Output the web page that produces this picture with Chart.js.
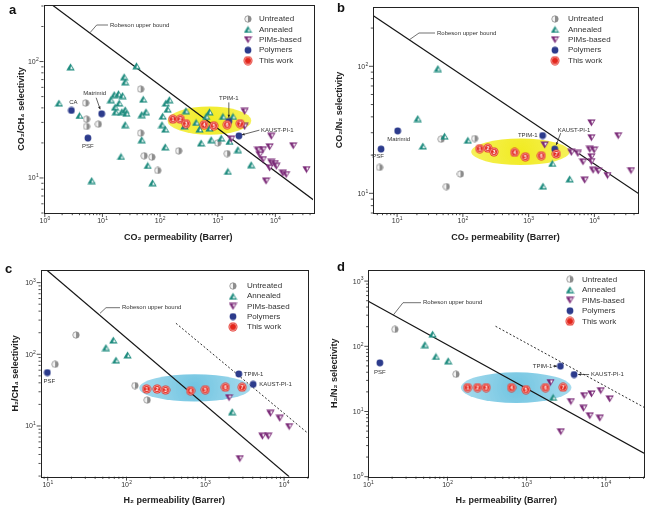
<!DOCTYPE html>
<html>
<head>
<meta charset="utf-8">
<title>Permeability / selectivity upper bound plots</title>
<script src="https://cdn.jsdelivr.net/npm/chart.js@4.4.1/dist/chart.umd.min.js"></script>
<style>
  html, body { margin: 0; padding: 0; background: #fff; }
  #fig { position: relative; width: 650px; height: 511px; overflow: hidden; }
  .panel { position: absolute; }
</style>
</head>
<body>
<div id="fig">
  <div class="panel" style="left:0;top:0;width:325px;height:255px"><canvas id="chartA"></canvas></div>
  <div class="panel" style="left:325px;top:0;width:325px;height:255px"><canvas id="chartB"></canvas></div>
  <div class="panel" style="left:0;top:255px;width:325px;height:256px"><canvas id="chartC"></canvas></div>
  <div class="panel" style="left:325px;top:255px;width:325px;height:256px"><canvas id="chartD"></canvas></div>
</div>
<script>
// values, [permeability (Barrer), selectivity]
const LEGEND_LABELS = ['Untreated', 'Annealed', 'PIMs-based', 'Polymers', 'This work'];
const WORK_LABELS = ['1', '2', '3', '4', '5', '6', '7'];

// a - CO2/CH4
const A_UNTREATED = [[5.1,44],[5.3,32],[5.3,27.7],[8.5,29],[46,58],[46,24.3],[53,15.5],[72,15.1],[91,11.6],[210,17.1],[1000,20],[1460,16.2]];
const A_ANNEALED = [[2.8,90],[39,92],[1.76,44],[4.0,34.4],[23.8,74],[24.8,67],[14,47],[16,52],[19,53],[22.3,51],[19.5,44],[16.6,40.6],[17,37],[21.7,37],[24.8,38.5],[26,36],[24.8,28.7],[51,47.5],[48,35],[57,37],[48,21.3],[21,15.3],[61,12.8],[6.5,9.5],[74,9.1],[123,18.5],[126,44],[145,47],[135,39],[111,34],[108,28.7],[123,26.3],[281,37.8],[265,28],[422,30],[482,26.3],[720,37],[630,33.8],[720,26.8],[1230,33.8],[1840,33.8],[515,20],[770,21.3],[1150,22],[1600,20.6],[2240,17.5],[3800,13],[1500,11.4]];
const A_PIMS = [[2930,37.3],[2930,27.7],[1710,21.6],[8500,22.8],[20400,18.9],[5000,17.3],[6100,17.5],[7950,18.5],[5350,15.8],[6100,14.4],[8500,13.6],[9800,13.3],[7950,12.2],[10400,12.6],[13500,11],[15400,10.7],[34700,11.8],[6900,9.4]];
const A_POLYMERS = [[2.9,38],[9.7,35.6],[5.6,22],[1560,30.6],[2330,23]];
const A_POLYMER_NAMES = ['CA', 'Matrimid', 'PSF', 'TPIM-1', 'KAUST-PI-1'];
const A_WORK = [[166,32],[225,32],[282,29.3],[581,28.7],[857,28.1],[1460,28.7],[2450,29.3]];
const A_ROBESON = [[1.35,306],[45400,6.5]];
const A_HIGHLIGHT = [[135,3830],[23.5,41.1]];
const A_X_RANGE = [0.95, 45000];
const A_Y_RANGE = [5, 306];

// b - CO2/N2
const B_UNTREATED = [[5.4,16],[46.7,26.7],[151,27],[92,14.2],[56,11.3]];
const B_ANNEALED = [[41.6,96],[20.6,38.8],[24.6,23.6],[52.6,28.2],[119,26.2],[2290,17.2],[1650,11.4],[4200,13]];
const B_PIMS = [[1750,24],[9000,35.9],[9000,27.4],[23000,28.4],[4460,21],[5600,20.6],[6700,17.7],[8500,22.2],[9900,21.9],[9000,19.4],[9000,17.8],[9550,15.2],[11400,15],[7100,12.7],[15800,13.8],[36000,15.1]];
const B_POLYMERS = [[10.2,31],[5.7,22.3],[1630,28.5],[2490,22.3]];
const B_POLYMER_NAMES = ['Matrimid', 'PSF', 'TPIM-1', 'KAUST-PI-1'];
const B_WORK = [[180,22.5],[240,22.7],[297,21.2],[612,21],[890,19.4],[1560,19.8],[2640,20.4]];
const B_ROBESON = [[4.3,251],[46200,10]];
const B_HIGHLIGHT = [[134,4200],[16.7,27]];
const B_X_RANGE = [4.3, 46000];
const B_Y_RANGE = [7, 293];

// c - H2/CH4
const C_UNTREATED = [[22.9,186],[12.4,72.5],[128,36.6],[183,23]];
const C_ANNEALED = [[54.8,124],[68,158],[73.5,83],[103,98],[2190,15.8]];
const C_PIMS = [[2000,24.8],[6700,15],[8800,12.8],[11600,9.8],[5300,7.2],[6300,7.2],[2740,3.5]];
const C_POLYMERS = [[9.9,55.5],[2660,53.2],[4050,38.1]];
const C_POLYMER_NAMES = ['PSF', 'TPIM-1', 'KAUST-PI-1'];
const C_WORK = [[180,32.8],[245,32.8],[313,31.8],[649,31.1],[1000,32.1],[1800,34.7],[2930,34.7]];
const C_ROBESON = [[9.7,1500],[11600,1.96]];
const C_DOTTED = [[424,271],[20100,7.9]];
const C_HIGHLIGHT = [[145,3740],[21.9,52.6]];
const C_X_RANGE = [8.15, 20100];
const C_Y_RANGE = [1.96, 1500];

// d - H2/N2
const D_UNTREATED = [[21.7,182],[128,37.3]];
const D_ANNEALED = [[51.9,106],[64.9,154],[71.4,69.8],[102,60],[2160,16.5]];
const D_PIMS = [[2000,27.8],[3620,14.2],[5320,17.5],[6600,18.6],[8630,20.9],[11200,15.6],[5220,11.2],[6280,8.6],[8400,7.9],[2700,4.9]];
const D_POLYMERS = [[14,55.8],[2670,49.6],[3980,36.9]];
const D_POLYMER_NAMES = ['PSF', 'TPIM-1', 'KAUST-PI-1'];
const D_WORK = [[180,23.3],[240,23.3],[309,23.3],[645,23.3],[980,21.7],[1730,23.3],[2890,23.5]];
const D_ROBESON = [[10,492],[30400,2.29]];
const D_DOTTED = [[405,203],[30400,11.6]];
const D_HIGHLIGHT = [[148,3680],[13.5,40]];
const D_X_RANGE = [10, 30400];
const D_Y_RANGE = [1, 1480];

const FONT = '"Liberation Sans", Arial, Helvetica, sans-serif';

// ---- marker images ----
function makeIcon(w, h, draw) {
  const c = document.createElement('canvas');
  c.width = w; c.height = h;
  draw(c.getContext('2d'));
  return c;
}

const ICON_UNTREATED = makeIcon(8, 8, g => {
  g.beginPath(); g.arc(4, 4, 3.2, 0, Math.PI * 2); g.fillStyle = '#8e8e8e'; g.fill();
  g.beginPath(); g.arc(4, 4, 3.2, Math.PI / 2, Math.PI * 1.5); g.closePath(); g.fillStyle = '#f3f3f3'; g.fill();
  g.beginPath(); g.arc(4, 4, 3.2, 0, Math.PI * 2); g.strokeStyle = '#888'; g.lineWidth = 0.7; g.stroke();
});
const ICON_ANNEALED = makeIcon(9, 8, g => {
  g.beginPath(); g.moveTo(4.5, 0.4); g.lineTo(8.7, 7.6); g.lineTo(0.3, 7.6); g.closePath();
  g.fillStyle = '#1d8b7e'; g.fill();
  g.beginPath(); g.moveTo(5.0, 3.0); g.lineTo(6.9, 6.3); g.lineTo(4.3, 6.3); g.closePath();
  g.fillStyle = '#ffffff'; g.fill();
});
const ICON_PIMS = makeIcon(9, 8, g => {
  g.beginPath(); g.moveTo(0.3, 0.4); g.lineTo(8.7, 0.4); g.lineTo(4.5, 7.6); g.closePath();
  g.fillStyle = '#7b2a78'; g.fill();
  g.beginPath(); g.moveTo(4.3, 1.7); g.lineTo(6.9, 1.7); g.lineTo(5.0, 5.0); g.closePath();
  g.fillStyle = '#ffffff'; g.fill();
});
const ICON_POLYMER = makeIcon(8, 8, g => {
  g.beginPath(); g.arc(4, 4, 3.4, 0, Math.PI * 2); g.fillStyle = '#2c3b8c'; g.fill();
});
function redIcon(label) {
  return makeIcon(10, 10, g => {
    g.beginPath(); g.arc(5, 5, 4.5, 0, Math.PI * 2); g.fillStyle = '#e3261c'; g.fill();
    g.beginPath(); g.arc(5, 5, 3.5, 0, Math.PI * 2); g.strokeStyle = 'rgba(255,255,255,0.85)'; g.lineWidth = 0.6; g.stroke();
    if (label) {
      g.fillStyle = '#fff'; g.font = 'bold 5.5px ' + FONT;
      g.textAlign = 'center'; g.textBaseline = 'middle';
      g.fillText(label, 5, 5.3);
    }
  });
}
const ICON_WORK = WORK_LABELS.map(redIcon);
const ICON_WORK_PLAIN = redIcon('');
const LEGEND_ICONS = [ICON_UNTREATED, ICON_ANNEALED, ICON_PIMS, ICON_POLYMER, ICON_WORK_PLAIN];

// ---- helpers ----
function toXY(pairs) {
  return pairs.map(p => ({x: p[0], y: p[1]}));
}

function logAxis(horizontal, range, title, titlePad, size) {
  return {
    type: 'logarithmic',
    position: horizontal ? 'bottom' : 'left',
    min: range[0],
    max: range[1],
    grid: {display: false, drawTicks: false},
    border: {display: false},
    ticks: {display: false},
    title: {
      display: true, text: title, color: '#222',
      font: {family: FONT, size: 9, weight: 'bold'},
      padding: horizontal ? {top: 0, bottom: titlePad} : {top: titlePad, bottom: 0}
    },
    afterFit: s => {
      if (horizontal) s.height = size; else s.width = size;
    }
  };
}

function pointSet(pairs, icon, order) {
  return {data: toXY(pairs), pointStyle: icon, pointRadius: 3, order: order};
}

function lineSet(pairs, dash, width, order) {
  return {
    data: toXY(pairs), showLine: true, pointRadius: 0, fill: false,
    borderColor: '#151515', borderWidth: width, borderDash: dash, order: order
  };
}

// minor/major tick marks and 10^n labels of a log axis
function logTicks(ctx, scale, horizontal, a) {
  const lo = Math.floor(Math.log10(scale.min)), hi = Math.ceil(Math.log10(scale.max));
  ctx.beginPath();
  for (let e = lo; e <= hi; e++) {
    for (let k = 1; k < 10; k++) {
      const v = k * Math.pow(10, e);
      if (v < scale.min * 0.999 || v > scale.max * 1.001) continue;
      const p = scale.getPixelForValue(v);
      const len = k === 1 ? 4 : 2.2;
      if (horizontal) { ctx.moveTo(p, a.bottom); ctx.lineTo(p, a.bottom + len); }
      else { ctx.moveTo(a.left, p); ctx.lineTo(a.left - len, p); }
    }
  }
  ctx.stroke();

  ctx.fillStyle = '#333';
  ctx.textBaseline = 'alphabetic';
  for (let e = lo; e <= hi; e++) {
    const v = Math.pow(10, e);
    if (v < scale.min * 0.999 || v > scale.max * 1.001) continue;
    const p = scale.getPixelForValue(v);
    const exp = String(e);
    ctx.font = '7px ' + FONT;
    const wb = ctx.measureText('10').width;
    ctx.font = '5px ' + FONT;
    const we = ctx.measureText(exp).width;
    let bx, by;
    if (horizontal) { bx = p - (wb + we) / 2; by = a.bottom + 10; }
    else { bx = a.left - 5 - wb - we; by = p + 2.5; }
    ctx.textAlign = 'left';
    ctx.font = '7px ' + FONT;
    ctx.fillText('10', bx, by);
    ctx.font = '5px ' + FONT;
    ctx.fillText(exp, bx + wb + 0.2, by - 3.2);
  }
}

function arrow(ctx, x0, y0, x1, y1) {
  ctx.beginPath(); ctx.moveTo(x0, y0); ctx.lineTo(x1, y1); ctx.stroke();
  const ang = Math.atan2(y1 - y0, x1 - x0);
  ctx.beginPath();
  ctx.moveTo(x1, y1);
  ctx.lineTo(x1 - 3 * Math.cos(ang - 0.45), y1 - 3 * Math.sin(ang - 0.45));
  ctx.lineTo(x1 - 3 * Math.cos(ang + 0.45), y1 - 3 * Math.sin(ang + 0.45));
  ctx.closePath(); ctx.fill();
}

// decorations: highlight ellipse, frame, ticks, legend, notes, panel letter
function makeDeco(cfg) {
  return {
    id: 'deco' + cfg.letter,
    beforeDatasetsDraw(chart) {
      const {ctx, chartArea: a, scales: {x, y}} = chart;
      const x0 = x.getPixelForValue(cfg.highlight[0][0]), x1 = x.getPixelForValue(cfg.highlight[0][1]);
      const y0 = y.getPixelForValue(cfg.highlight[1][0]), y1 = y.getPixelForValue(cfg.highlight[1][1]);
      ctx.save();
      ctx.beginPath(); ctx.rect(a.left, a.top, a.width, a.height); ctx.clip();
      const cx = (x0 + x1) / 2, cy = (y0 + y1) / 2;
      const rx = Math.abs(x1 - x0) / 2, ry = Math.abs(y1 - y0) / 2;
      const grad = ctx.createRadialGradient(cx, cy, 0, cx, cy, rx);
      grad.addColorStop(0, cfg.ellipseColors[0]);
      grad.addColorStop(1, cfg.ellipseColors[1]);
      ctx.beginPath(); ctx.ellipse(cx, cy, rx, ry, 0, 0, Math.PI * 2);
      ctx.fillStyle = grad; ctx.fill();
      ctx.restore();
    },
    afterDatasetsDraw(chart) {
      const {ctx, chartArea: a, scales} = chart;
      ctx.save();
      ctx.strokeStyle = '#222'; ctx.lineWidth = 1;
      ctx.strokeRect(Math.round(a.left) + 0.5, Math.round(a.top) + 0.5, Math.round(a.width), Math.round(a.height));
      ctx.lineWidth = 0.8;
      logTicks(ctx, scales.x, true, a);
      logTicks(ctx, scales.y, false, a);

      // legend
      const lg = cfg.legend;
      ctx.font = '8px ' + FONT; ctx.fillStyle = '#333';
      ctx.textAlign = 'left'; ctx.textBaseline = 'middle';
      LEGEND_ICONS.forEach((ic, i) => {
        const yy = lg.y + i * lg.dy;
        ctx.drawImage(ic, lg.sx - ic.width / 2, yy - ic.height / 2);
        ctx.fillText(LEGEND_LABELS[i], lg.tx, yy);
      });

      // Robeson label with leader
      const r = cfg.robesonLabel;
      ctx.strokeStyle = '#333'; ctx.lineWidth = 0.7;
      ctx.beginPath(); ctx.moveTo(r[0], r[1]); ctx.lineTo(r[2], r[3]); ctx.lineTo(r[4], r[3]); ctx.stroke();
      ctx.font = '6px ' + FONT; ctx.fillStyle = '#333';
      ctx.fillText('Robeson upper bound', r[4] + 2, r[3]);

      // polymer names
      const meta = chart.getDatasetMeta(3);
      cfg.notes.forEach(n => {
        const el = meta.data[n.i];
        if (!el) return;
        ctx.textAlign = n.align || 'center';
        ctx.fillStyle = '#333';
        ctx.fillText(cfg.names[n.i], el.x + n.dx, el.y + n.dy);
        if (n.arrow) {
          ctx.fillStyle = '#222'; ctx.strokeStyle = '#222'; ctx.lineWidth = 0.7;
          arrow(ctx, el.x + n.arrow[0], el.y + n.arrow[1], el.x + n.arrow[2], el.y + n.arrow[3]);
        }
      });

      ctx.font = 'bold 13px ' + FONT; ctx.fillStyle = '#111';
      ctx.textAlign = 'left'; ctx.textBaseline = 'alphabetic';
      ctx.fillText(cfg.letter, cfg.letterPos[0], cfg.letterPos[1]);
      ctx.restore();
    }
  };
}

function makePanel(id, cfg) {
  const ds = [
    pointSet(cfg.untreated, ICON_UNTREATED, 4),
    pointSet(cfg.annealed, ICON_ANNEALED, 3),
    pointSet(cfg.pims, ICON_PIMS, 2),
    pointSet(cfg.polymers, ICON_POLYMER, 1),
    {data: toXY(cfg.work), pointStyle: c => ICON_WORK[c.dataIndex] || ICON_WORK_PLAIN, pointRadius: 4, order: 0},
    lineSet(cfg.robeson, [], 1.2, 6)
  ];
  if (cfg.dotted) ds.push(lineSet(cfg.dotted, [2, 2], 0.9, 7));

  return new Chart(document.getElementById(id), {
    type: 'scatter',
    data: {datasets: ds},
    options: {
      responsive: true,
      maintainAspectRatio: false,
      animation: false,
      events: [],
      layout: {padding: {left: 0, top: cfg.pad[0], right: cfg.pad[1], bottom: 0}},
      plugins: {legend: {display: false}, tooltip: {enabled: false}},
      scales: {
        x: logAxis(true, cfg.xRange, cfg.xTitle, cfg.xTitlePad, cfg.xSize),
        y: logAxis(false, cfg.yRange, cfg.yTitle, cfg.yTitlePad, cfg.ySize)
      }
    },
    plugins: [makeDeco(cfg)]
  });
}

const YELLOW = ['rgba(240,234,20,0.95)', 'rgba(244,238,60,0.85)'];
const CYAN = ['rgba(96,190,222,0.9)', 'rgba(150,212,234,0.85)'];

makePanel('chartA', {
  letter: 'a', letterPos: [9, 13.5],
  untreated: A_UNTREATED, annealed: A_ANNEALED, pims: A_PIMS, polymers: A_POLYMERS, work: A_WORK,
  robeson: A_ROBESON, highlight: A_HIGHLIGHT, ellipseColors: YELLOW,
  xRange: A_X_RANGE, yRange: A_Y_RANGE,
  xTitle: 'CO₂ permeability (Barrer)', yTitle: 'CO₂/CH₄ selectivity',
  pad: [5, 12], xSize: 42, ySize: 43.5, xTitlePad: 11.6, yTitlePad: 16.3,
  legend: {sx: 248, tx: 259, y: 19, dy: 10.4},
  robesonLabel: [90, 32.7, 96.7, 25, 108],
  names: A_POLYMER_NAMES,
  notes: [
    {i: 0, dx: 2, dy: -8},
    {i: 1, dx: -7, dy: -20, arrow: [-5.5, -16, -1.5, -4.5]},
    {i: 2, dx: 0, dy: 8},
    {i: 3, dx: 0, dy: -23, arrow: [0, -19, 0, -4]},
    {i: 4, dx: 22, dy: -6, align: 'left', arrow: [20.5, -5.7, 3, -1]}
  ]
});

makePanel('chartB', {
  letter: 'b', letterPos: [12, 11.7],
  untreated: B_UNTREATED, annealed: B_ANNEALED, pims: B_PIMS, polymers: B_POLYMERS, work: B_WORK,
  robeson: B_ROBESON, highlight: B_HIGHLIGHT, ellipseColors: YELLOW,
  xRange: B_X_RANGE, yRange: B_Y_RANGE,
  xTitle: 'CO₂ permeability (Barrer)', yTitle: 'CO₂/N₂ selectivity',
  pad: [7, 12], xSize: 42, ySize: 48, xTitlePad: 12.3, yTitlePad: 9.6,
  legend: {sx: 230, tx: 243, y: 19, dy: 10.4},
  robesonLabel: [84, 40, 94, 33, 110],
  names: B_POLYMER_NAMES,
  notes: [
    {i: 0, dx: 1, dy: 8},
    {i: 1, dx: -3, dy: 7},
    {i: 2, dx: -5, dy: 0, align: 'right'},
    {i: 3, dx: 3, dy: -19, align: 'left', arrow: [6, -16, 1.5, -4]}
  ]
});

makePanel('chartC', {
  letter: 'c', letterPos: [5, 18.3],
  untreated: C_UNTREATED, annealed: C_ANNEALED, pims: C_PIMS, polymers: C_POLYMERS, work: C_WORK,
  robeson: C_ROBESON, dotted: C_DOTTED, highlight: C_HIGHLIGHT, ellipseColors: CYAN,
  xRange: C_X_RANGE, yRange: C_Y_RANGE,
  xTitle: 'H₂ permeability (Barrer)', yTitle: 'H₂/CH₄ selectivity',
  pad: [15, 17], xSize: 34.3, ySize: 40.7, xTitlePad: 4.6, yTitlePad: 10.6,
  legend: {sx: 233, tx: 247, y: 31, dy: 10.2},
  robesonLabel: [100, 58.3, 106, 52.7, 120],
  names: C_POLYMER_NAMES,
  notes: [
    {i: 0, dx: 2, dy: 9},
    {i: 1, dx: 5, dy: 0, align: 'left'},
    {i: 2, dx: 6, dy: 0, align: 'left'}
  ]
});

makePanel('chartD', {
  letter: 'd', letterPos: [12, 16],
  untreated: D_UNTREATED, annealed: D_ANNEALED, pims: D_PIMS, polymers: D_POLYMERS, work: D_WORK,
  robeson: D_ROBESON, dotted: D_DOTTED, highlight: D_HIGHLIGHT, ellipseColors: CYAN,
  xRange: D_X_RANGE, yRange: D_Y_RANGE,
  xTitle: 'H₂ permeability (Barrer)', yTitle: 'H₂/N₂ selectivity',
  pad: [15, 6], xSize: 34.3, ySize: 43.3, xTitlePad: 4.6, yTitlePad: 4.6,
  legend: {sx: 245, tx: 257, y: 24.3, dy: 10.5},
  robesonLabel: [68.3, 60, 78, 47.7, 96],
  names: D_POLYMER_NAMES,
  notes: [
    {i: 0, dx: 0, dy: 10},
    {i: 1, dx: -8, dy: 0, align: 'right', arrow: [-7.5, 0, -3.5, 0]},
    {i: 2, dx: 17, dy: 0, align: 'left', arrow: [15, 0, 4, 0]}
  ]
});
</script>
</body>
</html>
